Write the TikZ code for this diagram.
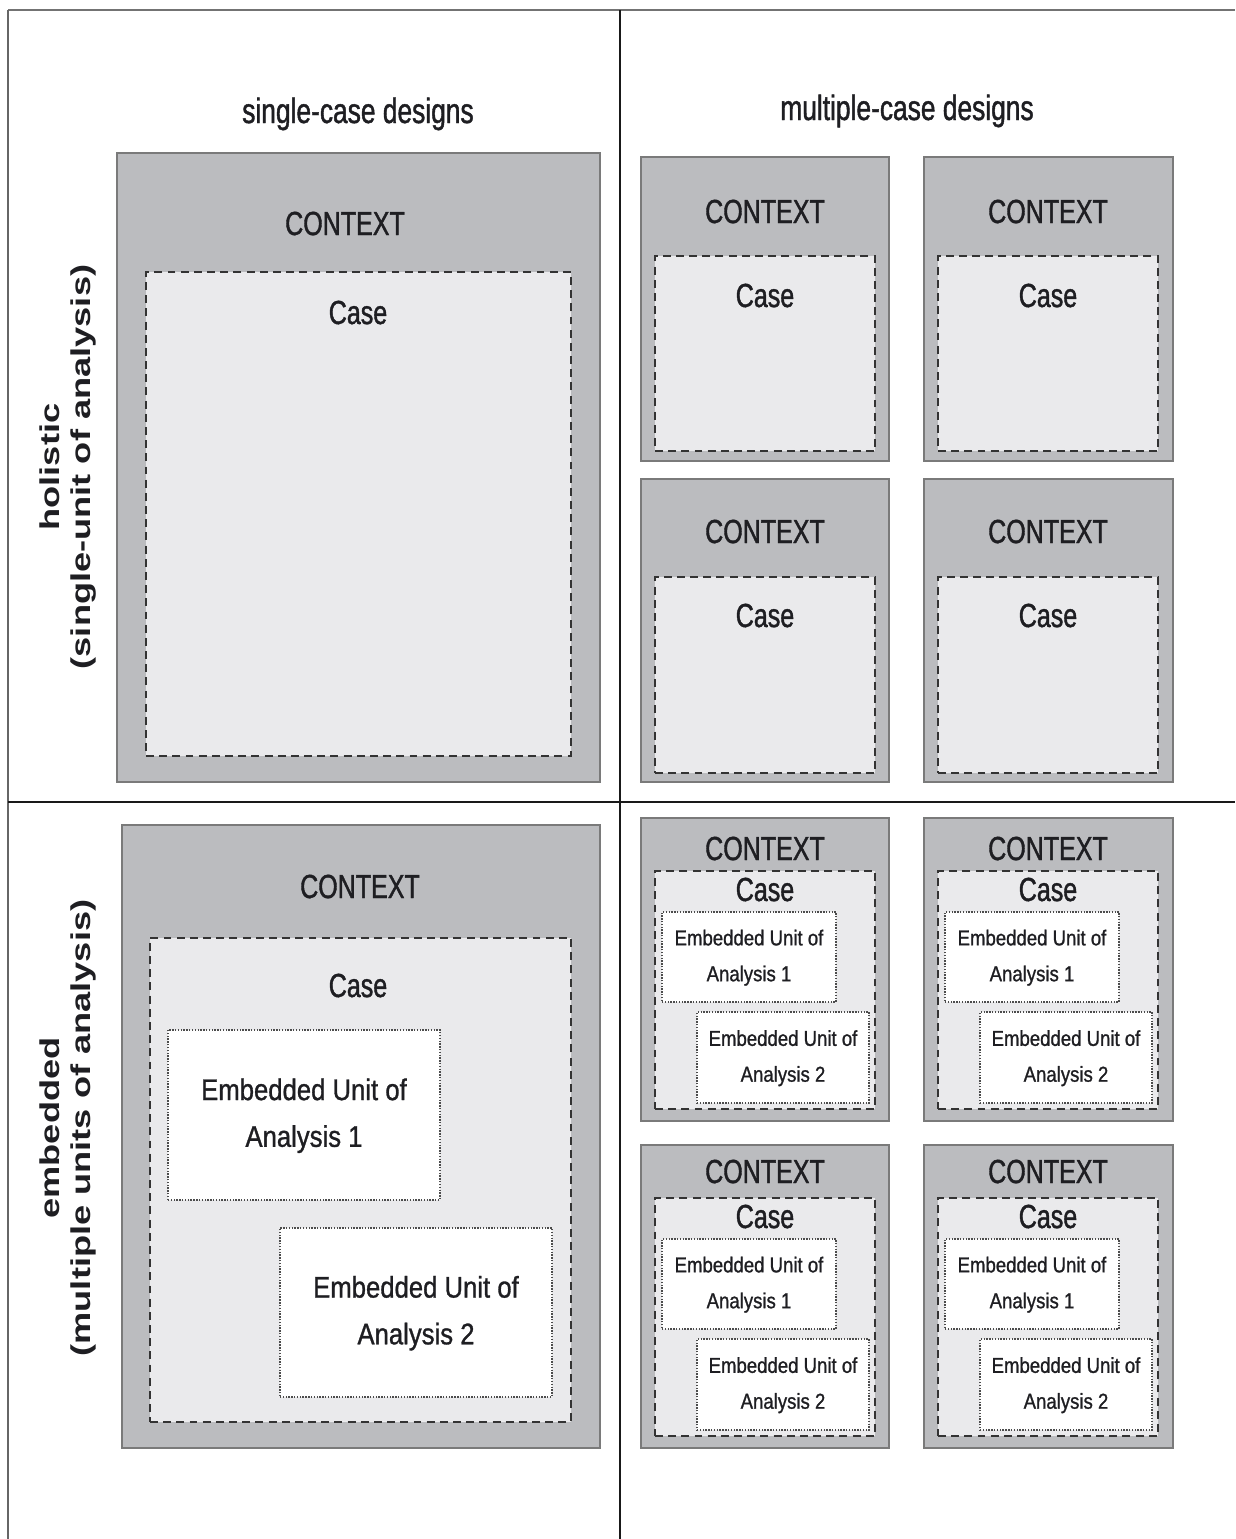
\documentclass[tikz,border=0pt]{standalone}
\usepackage{fontspec}
\newfontfamily\narrowfont{Liberation Sans}[FakeStretch=0.75, FakeBold=1.2]
\newfontfamily\semifont{Liberation Sans}[FakeStretch=0.86, FakeBold=1.0]
\newfontfamily\widefont{Liberation Sans}[FakeStretch=1.33]
\usetikzlibrary{positioning, fit}
\definecolor{ctxfill}{RGB}{187,188,191}
\definecolor{casefill}{RGB}{234,234,236}
\definecolor{inkgray}{RGB}{30,30,34}
\tikzset{
	ctx/.append style={
		draw=black!52,
		fill=ctxfill,
		line width=1.6pt,
		inner sep=0pt
	},
	casebox/.append style={
		draw=black!80,
		fill=casefill,
		line width=1.2pt,
		dash pattern=on 4.5pt off 3pt,
		inner sep=0pt
	},
	unit/.append style={
		draw=black!70,
		fill=white,
		line width=1pt,
		dash pattern=on 0.8pt off 0.8pt,
		inner sep=0pt
	},
	unitlbl/.append style={
		align=center,
		inner sep=0pt,
		text=inkgray,
		yshift=-0.4pt
	},
	bigtxt/.append style={
		unitlbl,
		font={\semifont\fontsize{17}{26.6}\selectfont}
	},
	smalltxt/.append style={
		unitlbl,
		font={\semifont\fontsize{12.3}{20.4}\selectfont}
	},
	ctxlbl/.append style={
		anchor=base,
		inner sep=0pt,
		text=inkgray,
		font={\narrowfont\fontsize{19}{22}\selectfont}
	},
	headlbl/.append style={
		anchor=base,
		inner sep=0pt,
		text=inkgray,
		font={\narrowfont\fontsize{20}{24}\selectfont}
	},
	sidelbl/.append style={
		rotate=90,
		align=center,
		inner sep=0pt,
		text=inkgray,
		font={\widefont\bfseries\fontsize{15.5}{17.6}\selectfont}
	}
}

\begin{document}
\begin{tikzpicture}[x=0.02cm, y=-0.02cm]
		\useasboundingbox (0,0) rectangle (1235,1539);
		
		% frame
		\draw[black!55, line width=1.7pt] (8,10) -- (1235,10);
		\draw[black!60, line width=1.3pt] (8,10) -- (8,1539);
		\draw[black!90, line width=1.4pt] (620,10) -- (620,1539);
		\draw[black!90, line width=1.6pt] (8,802) -- (1235,802);
		
		\node(single)[headlbl] at (358,123) {single-case designs};
		\node(multiple)[headlbl] at (907,120) {multiple-case designs};
		\node(holistic)[sidelbl] at (68,467) {holistic\\(single-unit of analysis)};
		\node(embedded)[sidelbl] at (68,1128) {embedded\\(multiple units of analysis)};
		
		% single-case, holistic
		\node(ctxS)[ctx, fit={(117,153) (600,782)}] {};
		\node(caseS)[casebox, fit={(146,272) (571,756)}] {};
		\node(ctxSlbl)[ctxlbl] at (345,235) {CONTEXT};
		\node(caseSlbl)[ctxlbl] at (358,324) {Case};
		
		% multiple-case, holistic
		\node(ctxA)[ctx, fit={(641,157) (889,461)}] {};
		\node(caseA)[casebox, fit={(655,256) (875,451)}] {};
		\node(ctxAlbl)[ctxlbl] at (765,223) {CONTEXT};
		\node(caseAlbl)[ctxlbl] at (765,307) {Case};
		
		\node(ctxB)[ctx, fit={(924,157) (1173,461)}] {};
		\node(caseB)[casebox, fit={(938,256) (1158,451)}] {};
		\node(ctxBlbl)[ctxlbl] at (1048,223) {CONTEXT};
		\node(caseBlbl)[ctxlbl] at (1048,307) {Case};
		
		\node(ctxC)[ctx, fit={(641,479) (889,782)}] {};
		\node(caseC)[casebox, fit={(655,577) (875,773)}] {};
		\node(ctxClbl)[ctxlbl] at (765,543) {CONTEXT};
		\node(caseClbl)[ctxlbl] at (765,627) {Case};
		
		\node(ctxD)[ctx, fit={(924,479) (1173,782)}] {};
		\node(caseD)[casebox, fit={(938,577) (1158,773)}] {};
		\node(ctxDlbl)[ctxlbl] at (1048,543) {CONTEXT};
		\node(caseDlbl)[ctxlbl] at (1048,627) {Case};
		
		% single-case, embedded
		\node(ctxT)[ctx, fit={(122,825) (600,1448)}] {};
		\node(caseT)[casebox, fit={(150,938) (571,1422)}] {};
		\node(ctxTlbl)[ctxlbl] at (360,898) {CONTEXT};
		\node(caseTlbl)[ctxlbl] at (358,997) {Case};
		\node(unitT1)[unit, fit={(168,1030) (440,1200)}] {};
		\node(unitT2)[unit, fit={(280,1228) (552,1397)}] {};
		\node(unitT1lbl)[bigtxt] at (unitT1) {Embedded Unit of\\Analysis 1};
		\node(unitT2lbl)[bigtxt] at (unitT2) {Embedded Unit of\\Analysis 2};
		
		% multiple-case, embedded
		\node(ctxE)[ctx, fit={(641,818) (889,1121)}] {};
		\node(caseE)[casebox, fit={(655,871) (875,1109)}] {};
		\node(ctxElbl)[ctxlbl] at (765,860) {CONTEXT};
		\node(caseElbl)[ctxlbl] at (765,901) {Case};
		\node(unitE1)[unit, fit={(662,912) (836,1002)}] {};
		\node(unitE2)[unit, fit={(697,1012) (869,1103)}] {};
		\node(unitE1lbl)[smalltxt] at (unitE1) {Embedded Unit of\\Analysis 1};
		\node(unitE2lbl)[smalltxt] at (unitE2) {Embedded Unit of\\Analysis 2};
		
		\node(ctxF)[ctx, fit={(924,818) (1173,1121)}] {};
		\node(caseF)[casebox, fit={(938,871) (1158,1109)}] {};
		\node(ctxFlbl)[ctxlbl] at (1048,860) {CONTEXT};
		\node(caseFlbl)[ctxlbl] at (1048,901) {Case};
		\node(unitF1)[unit, fit={(945,912) (1119,1002)}] {};
		\node(unitF2)[unit, fit={(980,1012) (1152,1103)}] {};
		\node(unitF1lbl)[smalltxt] at (unitF1) {Embedded Unit of\\Analysis 1};
		\node(unitF2lbl)[smalltxt] at (unitF2) {Embedded Unit of\\Analysis 2};
		
		\node(ctxG)[ctx, fit={(641,1145) (889,1448)}] {};
		\node(caseG)[casebox, fit={(655,1198) (875,1436)}] {};
		\node(ctxGlbl)[ctxlbl] at (765,1183) {CONTEXT};
		\node(caseGlbl)[ctxlbl] at (765,1228) {Case};
		\node(unitG1)[unit, fit={(662,1239) (836,1329)}] {};
		\node(unitG2)[unit, fit={(697,1339) (869,1430)}] {};
		\node(unitG1lbl)[smalltxt] at (unitG1) {Embedded Unit of\\Analysis 1};
		\node(unitG2lbl)[smalltxt] at (unitG2) {Embedded Unit of\\Analysis 2};
		
		\node(ctxH)[ctx, fit={(924,1145) (1173,1448)}] {};
		\node(caseH)[casebox, fit={(938,1198) (1158,1436)}] {};
		\node(ctxHlbl)[ctxlbl] at (1048,1183) {CONTEXT};
		\node(caseHlbl)[ctxlbl] at (1048,1228) {Case};
		\node(unitH1)[unit, fit={(945,1239) (1119,1329)}] {};
		\node(unitH2)[unit, fit={(980,1339) (1152,1430)}] {};
		\node(unitH1lbl)[smalltxt] at (unitH1) {Embedded Unit of\\Analysis 1};
		\node(unitH2lbl)[smalltxt] at (unitH2) {Embedded Unit of\\Analysis 2};
\end{tikzpicture}
\end{document}
